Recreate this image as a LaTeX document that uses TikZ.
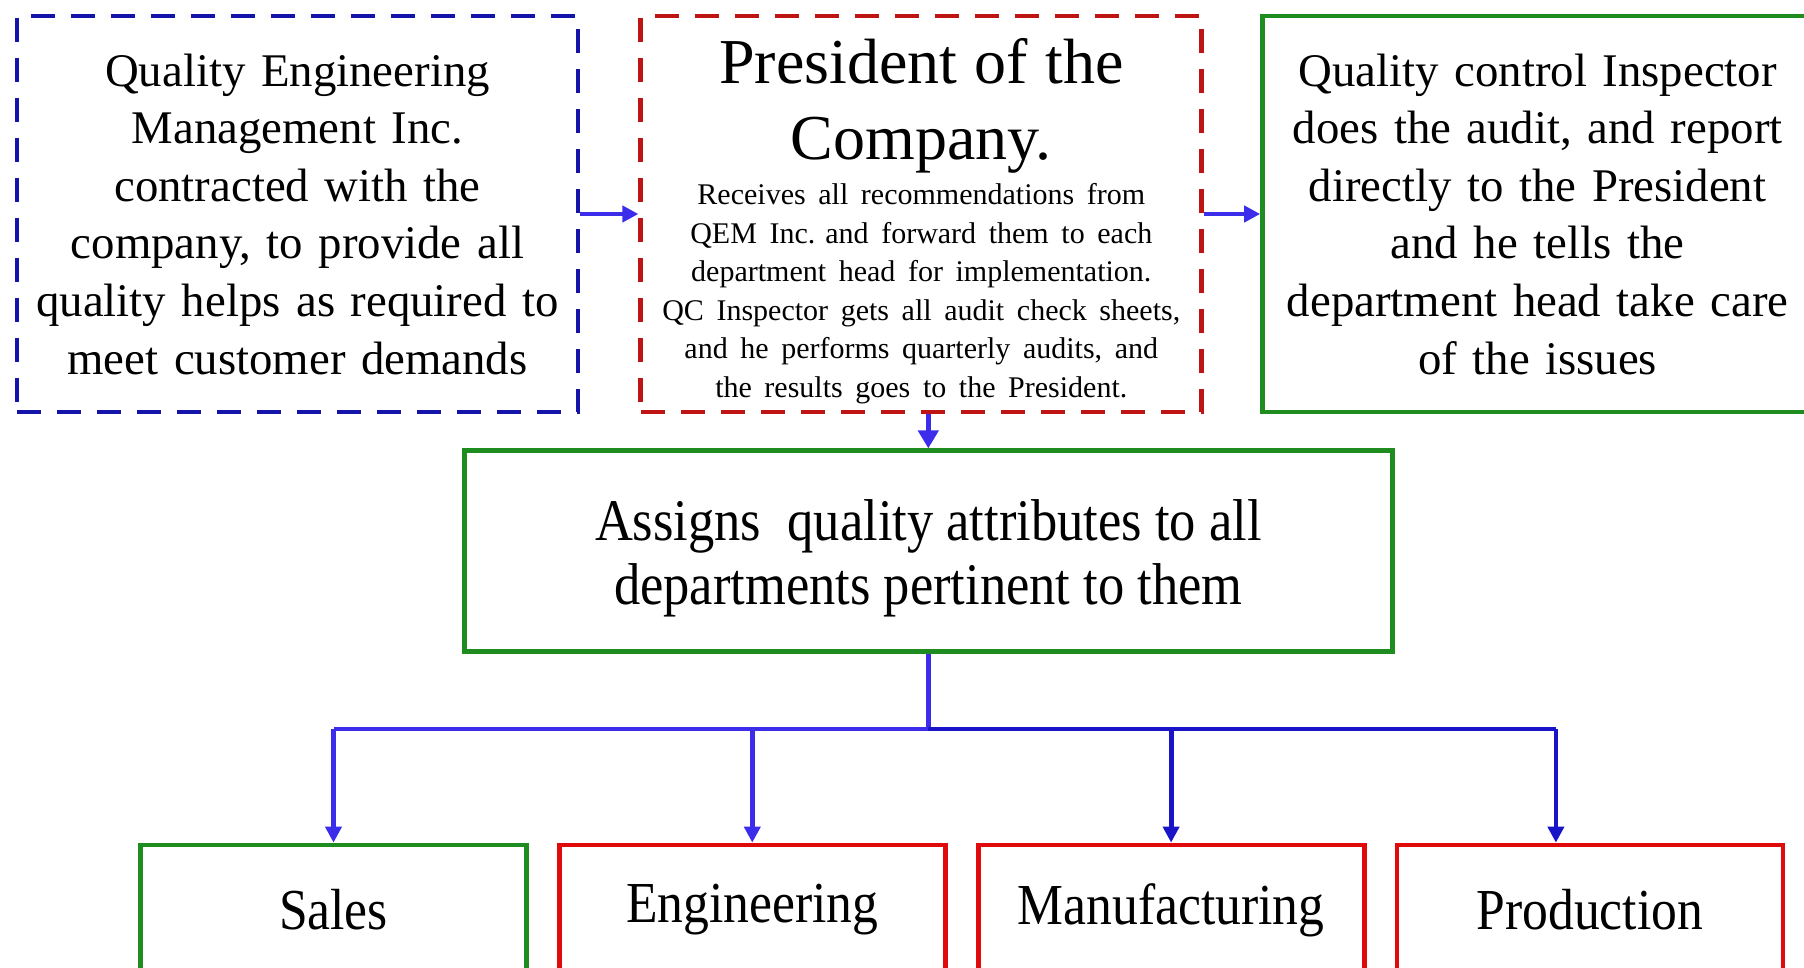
\documentclass[tikz,border=0pt]{standalone}
\usepackage{fontspec}
\setmainfont{Liberation Serif}
\newfontfamily\narrowfont{Liberation Serif}[FakeStretch=0.89]
\usepackage{tikz}
\usetikzlibrary{
  positioning,
  arrows.meta
}
\definecolor{qemblue}{RGB}{20,20,170}
\definecolor{presred}{RGB}{190,20,20}
\definecolor{boxgreen}{RGB}{30,140,30}
\definecolor{deptred}{RGB}{225,10,10}
\definecolor{linkblue}{RGB}{60,45,235}
\definecolor{deepblue}{RGB}{25,20,200}
\tikzset{
  >={Triangle[length=8pt, width=8pt]},
  box/.style={draw, line width=2.4pt, inner sep=0pt, align=center},
  topbox/.style={box, minimum width=280.5pt, minimum height=198pt, text width=275pt},
  dashbox/.style={topbox, dash pattern=on 12pt off 8pt},
  dept/.style={box, draw=deptred, minimum width=193pt, minimum height=65pt,
    font=\narrowfont\fontsize{29}{34}\selectfont},
  link/.style={->, draw=linkblue, line width=2.4pt},
  bus/.style={draw=linkblue, line width=2.4pt}
}

\begin{document}
\begin{tikzpicture}
  \useasboundingbox (0,0) rectangle (902pt,-484pt);
  \node[dashbox, draw=qemblue, font=\fontsize{23.4}{28.8}\selectfont] (qem) at (148.75pt,-107pt)
    {Quality Engineering\\ Management Inc.\\ contracted with the\\ company, to provide all\\ quality helps as required to\\ meet customer demands};
  \node[dashbox, draw=presred, right=29pt of qem] (pres)
    {{\fontsize{32}{38}\selectfont \spaceskip=.27em\relax \rule{0pt}{30pt}President of the\\ Company.\par}\vspace{3pt}
     {\fontsize{15}{19.3}\selectfont \spaceskip=.42em\relax Receives all recommendations from\\ QEM Inc. and forward them to each\\ department head for implementation.\\ QC Inspector gets all audit check sheets,\\ and he performs quarterly audits, and\\ the results goes to the President.\par}};
  \node[topbox, draw=boxgreen, minimum width=274pt, right=28pt of pres, font=\fontsize{23.4}{28.8}\selectfont] (qc)
    {Quality control Inspector\\ does the audit, and report\\ directly to the President\\ and he tells the\\ department head take care\\ of the issues};
  \node[box, draw=boxgreen, minimum width=464pt, minimum height=100.5pt, below=17pt of pres, xshift=3.5pt,
    font=\narrowfont\fontsize{29.5}{32}\selectfont] (assign)
    {\rule{0pt}{27.5pt}Assigns\ \ quality attributes to all\\ departments pertinent to them};
  \node[dept, draw=boxgreen] (sales) at (166.75pt,-455pt) {Sales};
  \node[dept, right=14pt of sales] (eng) {Engineering};
  \node[dept, right=14pt of eng] (manu) {Manufacturing};
  \node[dept, right=14pt of manu] (prod) {Production};
  \coordinate (bus) at (0,-364.5pt);
  \coordinate (prodin) at ([xshift=-17pt]prod.north);
  \draw (qem) edge[link, line width=2pt] (pres);
  \draw (pres) edge[link, line width=2pt] (qc);
  \draw (assign |- pres.south) edge[link, >={Triangle[length=9pt, width=10pt]}] (assign);
  \draw[bus] (assign.south) -- (assign.south |- bus);
  \draw[bus] (sales.north |- bus) -- (assign.south |- bus);
  \draw[bus, draw=deepblue] (assign.south |- bus) -- (prodin |- bus);
  \draw (sales.north |- bus) edge[link] (sales);
  \draw (eng.north |- bus) edge[link] (eng);
  \draw (manu.north |- bus) edge[link, draw=deepblue] (manu);
  \draw (prodin |- bus) edge[link, draw=deepblue] (prodin);
\end{tikzpicture}
\end{document}
